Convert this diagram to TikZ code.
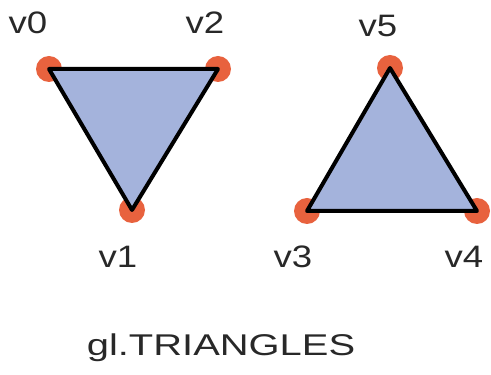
\documentclass[tikz,border=0pt]{standalone}
\usepackage{fontspec}
\setmainfont{Liberation Sans}
\definecolor{trifill}{RGB}{164,179,220}
\definecolor{dotcol}{RGB}{232,98,62}
\definecolor{txtcol}{RGB}{40,40,40}
\begin{document}
\begin{tikzpicture}[x=1pt,y=1pt,
  vdot/.style={fill=dotcol,draw=none},
  tri/.style={fill=trifill,draw=black,line width=4pt,line join=round},
  vlabel/.style={font=\fontsize{31}{31}\selectfont,text=txtcol,inner sep=0pt}]
\useasboundingbox (0,0) rectangle (491,375);
% vertices (y = 375 - image y)
\coordinate (v0) at (49,306);
\coordinate (v2) at (218,306);
\coordinate (v1) at (132,165);
\coordinate (v5) at (390,307);
\coordinate (v3) at (307,164);
\coordinate (v4) at (477,164);
\foreach \p in {v0,v1,v2,v3,v4,v5} \fill[vdot] (\p) circle (13);
\draw[tri] (v0) -- (v2) -- (v1) -- cycle;
\draw[tri] (v3) -- (v4) -- (v5) -- cycle;
\node[vlabel] (l0) at (28,352) {\scalebox{1.18}[1]{v0}};
\node[vlabel] (l2) at (205,352) {\scalebox{1.18}[1]{v2}};
\node[vlabel] (l5) at (378,349) {\scalebox{1.18}[1]{v5}};
\node[vlabel] (l1) at (118,118) {\scalebox{1.18}[1]{v1}};
\node[vlabel] (l3) at (293,118) {\scalebox{1.18}[1]{v3}};
\node[vlabel] (l4) at (464,118) {\scalebox{1.18}[1]{v4}};
\node[font=\fontsize{30}{30}\selectfont,text=txtcol,inner sep=0pt] (title) at (221,27) {\scalebox{1.33}[1]{gl.TRIANGLES}};
\end{tikzpicture}
\end{document}
